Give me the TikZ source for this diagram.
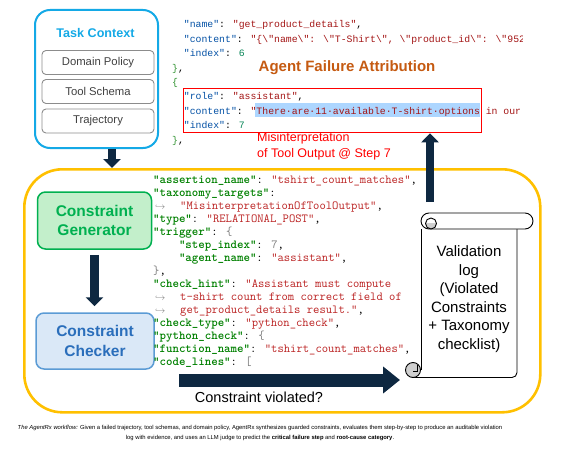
\documentclass[tikz,border=0pt]{standalone}
\usepackage{fontspec}
\setmainfont{Liberation Sans}
\newfontfamily\jsonfont{Liberation Mono}
\usetikzlibrary{arrows.meta,positioning}

\definecolor{navyarrow}{HTML}{0E2841}
\definecolor{goldline}{HTML}{FFC000}
\definecolor{skyline}{HTML}{14A9E6}
\definecolor{itemgray}{HTML}{8C8C8C}
\definecolor{itemtext}{HTML}{404040}
\definecolor{gengreen}{HTML}{00B050}
\definecolor{genfill}{HTML}{C3EFCB}
\definecolor{chkblue}{HTML}{2A6EBB}
\definecolor{chkline}{HTML}{5B9BD5}
\definecolor{chkfill}{HTML}{DAE8F7}
\definecolor{attrorange}{HTML}{C55A11}
\definecolor{selblue}{HTML}{ADD6FF}
\definecolor{curlgray}{HTML}{D0D0D0}
\definecolor{jkey}{HTML}{0451A5}
\definecolor{jstr}{HTML}{A31515}
\definecolor{jnum}{HTML}{098658}
\definecolor{jbrace}{HTML}{319331}
\definecolor{ckey}{HTML}{008000}
\definecolor{cstr}{HTML}{BA2121}
\definecolor{cgray}{HTML}{7A7A7A}

\newcommand{\jsonkey}[1]{\textcolor{jkey}{"#1"}}
\newcommand{\jsonstr}[1]{\textcolor{jstr}{"#1"}}
\newcommand{\codekey}[1]{\textcolor{ckey}{\bfseries"#1"}}
\newcommand{\codestr}[1]{\textcolor{cstr}{"#1"}}
\newcommand{\contarrow}{\makebox[27pt][l]{\hspace{2pt}\textcolor{cgray}{$\scriptstyle\hookrightarrow$}}}

\begin{document}
\begin{tikzpicture}[x=1pt,y=-1pt,
  ctxbox/.style={draw=skyline, line width=2pt, rounded corners=15pt, minimum width=123pt, minimum height=138pt, anchor=north west},
  itembox/.style={draw=itemgray, line width=0.9pt, rounded corners=4pt, minimum width=112pt, minimum height=24pt, inner sep=0pt, text=itemtext, font=\fontsize{11.3}{13}\selectfont},
  loopbox/.style={draw=goldline, line width=2.6pt, rounded corners=38pt, minimum width=516pt, minimum height=243pt, anchor=north west},
  genbox/.style={draw=gengreen, fill=genfill, line width=1.5pt, rounded corners=8pt, minimum width=114pt, minimum height=57pt, align=center, text=gengreen, font=\fontsize{15.5}{19.5}\selectfont\bfseries},
  chkbox/.style={draw=chkline, fill=chkfill, line width=1.5pt, rounded corners=8pt, minimum width=118pt, minimum height=56pt, align=center, text=chkblue, font=\fontsize{15.5}{19.5}\selectfont\bfseries},
  fatarrow/.style={draw=navyarrow, line width=8.5pt, -{Triangle[width=17pt,length=9pt]}},
  bigarrow/.style={draw=navyarrow, line width=13pt, -{Triangle[width=26pt,length=17pt]}},
  code/.style={inner sep=0pt, align=left, anchor=north west},
  scrollline/.style={draw=black, line width=0.9pt},
]
\useasboundingbox (0,0) rectangle (567,460);

% task context
\node[ctxbox] (ctx) at (34,9) {};
\node[text=skyline, font=\fontsize{12.6}{14}\selectfont\bfseries] (ctxtitle) at (95.5,33) {Task Context};
\node[itembox] (policy) at (98,62.5) {Domain Policy};
\node[itembox] (schema) at (98,91.5) {Tool Schema};
\node[itembox] (traj) at (98,121) {Trajectory};

% trajectory excerpt
\fill[selblue] (255,103) rectangle (480,117);
\begin{scope}
\clip (0,0) rectangle (522,160);
\node[code, font=\jsonfont\fontsize{9.8}{14.4}\selectfont] (json) at (172,20.5) {%
\hspace*{11.76pt}\jsonkey{name}: \jsonstr{get\_product\_details},\\
\hspace*{11.76pt}\jsonkey{content}: \textcolor{jstr}{"\{\textbackslash"name\textbackslash": \textbackslash"T-Shirt\textbackslash", \textbackslash"product\_id\textbackslash": \textbackslash"9523\textbackslash"\}"}\\
\hspace*{11.76pt}\jsonkey{index}: \textcolor{jnum}{6}\\
\textcolor{jbrace}{\}},\\
\textcolor{jbrace}{\{}\\
\hspace*{11.76pt}\jsonkey{role}: \jsonstr{assistant},\\
\hspace*{11.76pt}\jsonkey{content}: \textcolor{jstr}{"There·are·11·available·T-shirt·options in our}\\
\hspace*{11.76pt}\jsonkey{index}: \textcolor{jnum}{7}\\
\textcolor{jbrace}{\}},};
\end{scope}
\node[draw=red, line width=1.3pt, minimum width=298pt, minimum height=44pt, inner sep=0pt, anchor=north west] (failbox) at (183,88) {};
\node[text=attrorange, font=\fontsize{15}{17}\selectfont\bfseries] (attr) at (347,68) {Agent Failure Attribution};
\node[text=red, align=left, anchor=west, inner sep=0pt, font=\fontsize{12.5}{15.5}\selectfont] (misread) at (257,146.5) {Misinterpretation\\of Tool Output @ Step 7};

% validation loop
\node[loopbox] (loop) at (23,168) {};
\node[genbox] (gen) at (94.5,220.5) {Constraint\\Generator};
\node[chkbox] (chk) at (95,341) {Constraint\\Checker};

\node[code, font=\ttfamily\fontsize{12.3}{13}\selectfont] (assertion) at (153,176) {%
\codekey{assertion\_name}: \codestr{tshirt\_count\_matches},\\
\codekey{taxonomy\_targets}:\\
\contarrow\codestr{MisinterpretationOfToolOutput},\\
\codekey{type}: \codestr{RELATIONAL\_POST},\\
\codekey{trigger}: \textcolor{cgray}{\{}\\
\hspace*{25.8pt}\codekey{step\_index}: \textcolor{cgray}{7},\\
\hspace*{25.8pt}\codekey{agent\_name}: \codestr{assistant},\\
\textcolor{cgray}{\}},\\
\codekey{check\_hint}: \textcolor{cstr}{"Assistant must compute}\\
\contarrow\textcolor{cstr}{t-shirt count from correct field of}\\
\contarrow\textcolor{cstr}{get\_product\_details result."},\\
\codekey{check\_type}: \codestr{python\_check},\\
\codekey{python\_check}: \textcolor{cgray}{\{}\\
\codekey{function\_name}: \codestr{tshirt\_count\_matches},\\
\codekey{code\_lines}: \textcolor{cgray}{[}};

% validation log scroll
\node[minimum width=96pt, minimum height=148pt, inner sep=0pt, anchor=north west] (logbody) at (421,229) {};
\fill[white] (421,225) rectangle (517,377.5);
\draw[scrollline, rounded corners=5pt] (413,377.5) -- (517,377.5) -- (517,229);
\draw[scrollline] (421,229) -- (421,370);
\draw[scrollline, fill=white, rounded corners=8pt] (421,213) rectangle (533,229);
\begin{scope}
\clip (424,223.5) rectangle (439,231);
\fill[curlgray] (431,223.5) circle (5.5pt);
\end{scope}
\draw[scrollline] (431,223.5) circle (5.5pt);
\filldraw[scrollline, fill=curlgray] (413,370) circle (7.5pt);
\draw[scrollline] (413,371) -- (417.5,371) -- (417.5,365);
\node[align=center, font=\fontsize{15}{18.5}\selectfont] (logtext) at (469,299) {Validation\\log\\(Violated\\Constraints\\+ Taxonomy\\checklist)};

% arrows
\draw[fatarrow] ([xshift=15.5pt]ctx.south) -- ([xshift=15.5pt]ctx.south |- loop.north);
\draw[fatarrow, shorten <=5pt, shorten >=6pt] (gen.south) -- (gen.south |- chk.north);
\coordinate (upstart) at (430,202);
\draw[fatarrow] (upstart) -- (upstart |- failbox.south);
\coordinate (violstart) at (179,380);
\draw[bigarrow, shorten >=21pt] (violstart) -- (violstart -| logbody.west);
\node[font=\fontsize{14.5}{16}\selectfont] (violq) at (259,397) {Constraint violated?};

% caption
\node[align=center, font=\fontsize{5.85}{10}\selectfont] (caption) at (260,433) {\textit{The AgentRx workflow:} Given a failed trajectory, tool schemas, and domain policy, AgentRx synthesizes guarded constraints, evaluates them step-by-step to produce an auditable violation\\log with evidence, and uses an LLM judge to predict the \textbf{critical failure step} and \textbf{root-cause category}.};
\end{tikzpicture}
\end{document}
